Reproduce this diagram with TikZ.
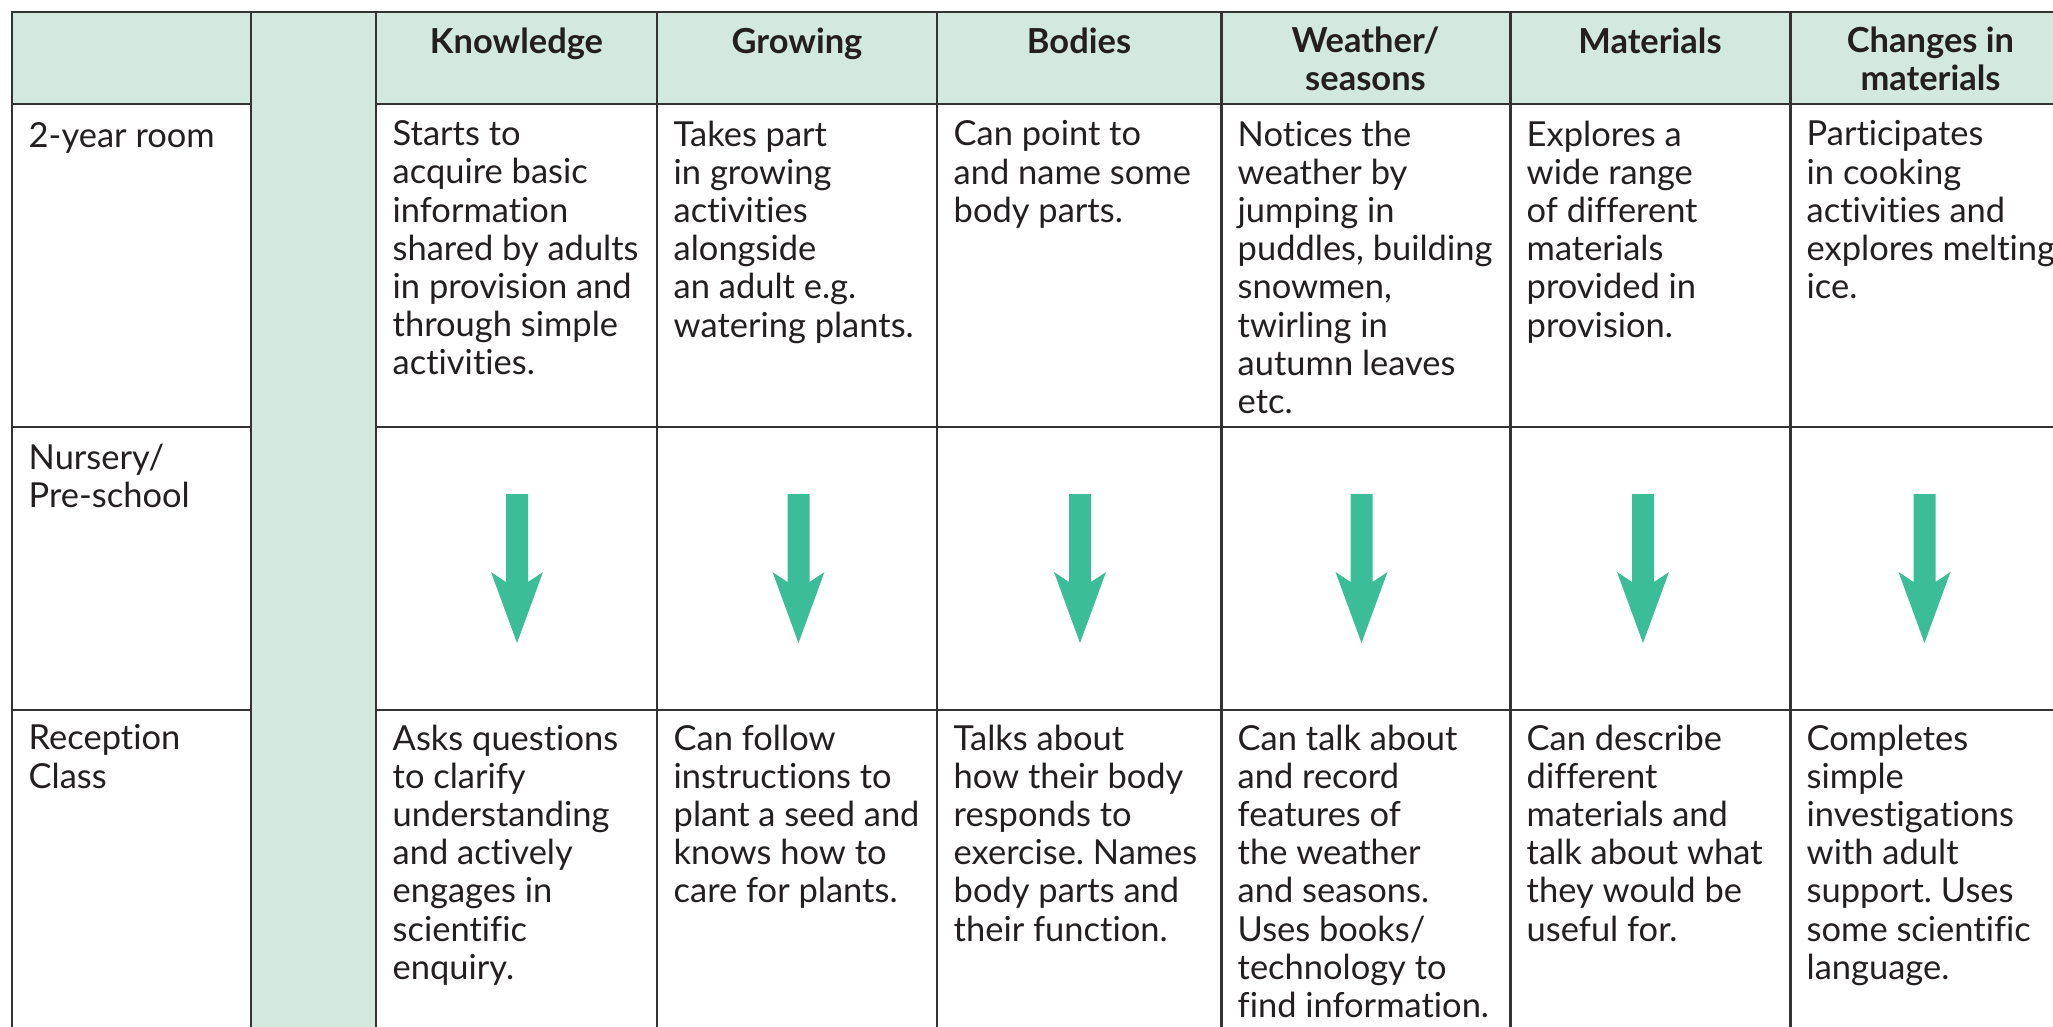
\documentclass[tikz,border=0pt]{standalone}
\usepackage{fontspec}
\setmainfont{Lato}[Ligatures=NoCommon]
\usetikzlibrary{positioning}
\frenchspacing

\definecolor{headgreen}{HTML}{D3E9DF}
\definecolor{arrowgreen}{HTML}{3BBE97}
\definecolor{gridgray}{HTML}{333333}
\definecolor{inkblack}{HTML}{231F20}

\tikzset{
  tableline/.style={draw=gridgray, line width=0.85pt},
  cell/.style={anchor=north west, inner sep=0pt, align=left, text=inkblack,
    font=\fontsize{9.8}{10.86}\selectfont, execute at begin node=\strut},
  head/.style={cell, anchor=north, align=center,
    font=\bfseries\fontsize{9.8}{10.86}\selectfont},
  downarrow/.style={fill=arrowgreen}
}

\begin{document}
\begin{tikzpicture}[x=0.01cm, y=-0.01cm]
  \useasboundingbox (0,0) rectangle (2053,1027);
  \clip (0,0) rectangle (2053,1027);

  % header band and the empty green column
  \fill[headgreen] (12,12) rectangle (2100,104);
  \fill[headgreen] (251,12) rectangle (376,1100);

  % rules of the table
  \draw[tableline] (12,1100) -- (12,12) -- (2100,12);
  \foreach \x in {251,376,657,937,1221,1510,1790}
    {\draw[tableline] (\x,12) -- (\x,1100);}
  \foreach \y in {104,427,710}
    {\draw[tableline] (12,\y) -- (251,\y) (376,\y) -- (2100,\y);}

  % column heads
  \node[head] (hknow) at (516.5,26) {Knowledge};
  \node[head] (hgrow) at (797,26) {Growing};
  \node[head] (hbody) at (1079,26) {Bodies};
  \node[head] (hweather) at (1365.5,26) {Weather/\\seasons};
  \node[head] (hmat) at (1650,26) {Materials};
  \node[head] (hchange) at (1930.5,26) {Changes in\\materials};

  % row labels
  \node[cell] (rtwo) at (28,120) {2-year room};
  \node[cell] (rnursery) at (28,443) {Nursery/\\Pre-school};
  \node[cell] (rreception) at (28,724) {Reception\\Class};

  % 2-year room
  \node[cell] (know1) at (392,120) {Starts to\\acquire basic\\information\\shared by adults\\in provision and\\through simple\\activities.};
  \node[cell] (grow1) at (673,120) {Takes part\\in growing\\activities\\alongside\\an adult e.g.\\watering plants.};
  \node[cell] (body1) at (953,120) {Can point to\\and name some\\body parts.};
  \node[cell] (weather1) at (1237,120) {Notices the\\weather by\\jumping in\\puddles, building\\snowmen,\\twirling in\\autumn leaves\\etc.};
  \node[cell] (mat1) at (1526,120) {Explores a\\wide range\\of different\\materials\\provided in\\provision.};
  \node[cell] (change1) at (1806,120) {Participates\\in cooking\\activities and\\explores melting\\ice.};

  % nursery arrows
  \foreach \i in {0,...,5}
    {\pgfmathsetmacro{\c}{517+281.5*\i}
     \fill[downarrow] (\c-11,494) -- (\c+11,494) -- (\c+11,582) -- (\c+26,572)
       -- (\c,643) -- (\c-26,572) -- (\c-11,582) -- cycle;}

  % reception class
  \node[cell] (know3) at (392,724) {Asks questions\\to clarify\\understanding\\and actively\\engages in\\scientific\\enquiry.};
  \node[cell] (grow3) at (673,724) {Can follow\\instructions to\\plant a seed and\\knows how to\\care for plants.};
  \node[cell] (body3) at (953,724) {Talks about\\how their body\\responds to\\exercise. Names\\body parts and\\their function.};
  \node[cell] (weather3) at (1237,724) {Can talk about\\and record\\features of\\the weather\\and seasons.\\Uses books/\\technology to\\find information.};
  \node[cell] (mat3) at (1526,724) {Can describe\\different\\materials and\\talk about what\\they would be\\useful for.};
  \node[cell] (change3) at (1806,724) {Completes\\simple\\investigations\\with adult\\support. Uses\\some scientific\\language.};
\end{tikzpicture}
\end{document}
